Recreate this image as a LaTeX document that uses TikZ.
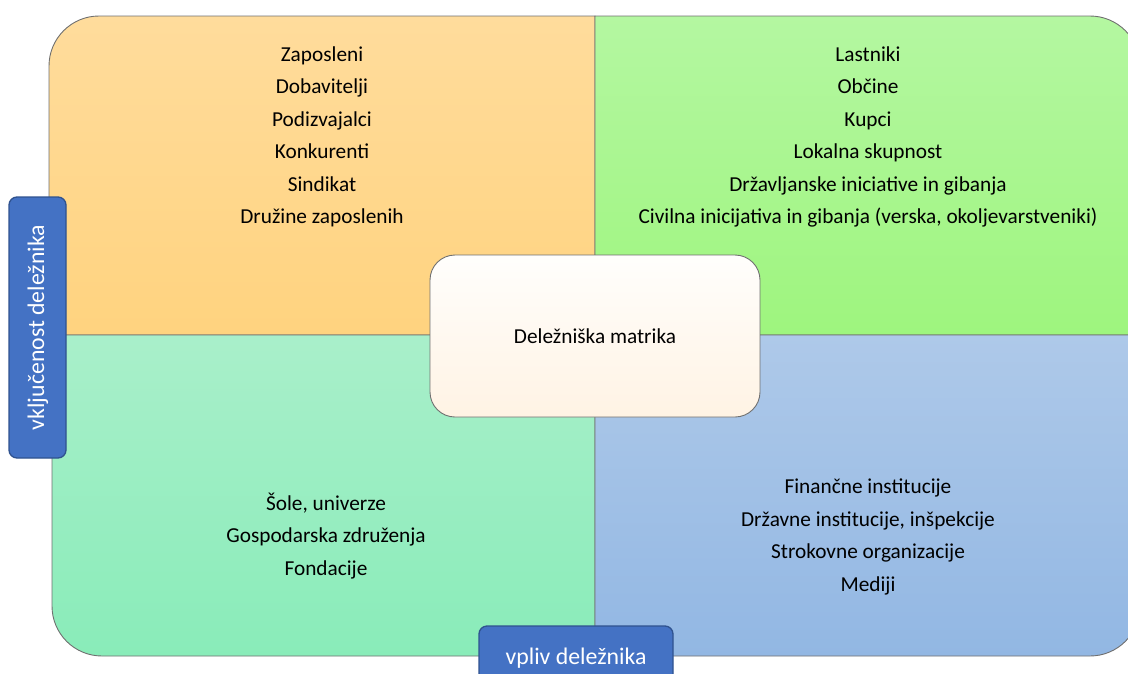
\documentclass[tikz,border=0pt]{standalone}
\usepackage{fontspec}
\setmainfont{Carlito}
\definecolor{tlA}{HTML}{FFDC9C}
\definecolor{tlB}{HTML}{FFD37F}
\definecolor{trA}{HTML}{B4F7A1}
\definecolor{trB}{HTML}{9EF57E}
\definecolor{blA}{HTML}{A9EFCA}
\definecolor{blB}{HTML}{89ECB9}
\definecolor{brA}{HTML}{AEC9E9}
\definecolor{brB}{HTML}{92B7E3}
\definecolor{ctA}{HTML}{FFFEFC}
\definecolor{ctB}{HTML}{FFF3E4}
\definecolor{edge}{HTML}{707070}
\definecolor{lblfill}{HTML}{4472C4}
\definecolor{lbledge}{HTML}{2F528F}
\begin{document}
\begin{tikzpicture}[x=1pt,y=-1pt,
  quad/.style={draw=edge,line width=0.9pt},
  listtext/.style={align=center,font=\fontsize{21.3}{32.5}\selectfont,text=black,inner sep=0pt},
  lbl/.style={draw=lbledge,line width=1.3pt,fill=lblfill,rounded corners=8pt},
  lbltext/.style={font=\fontsize{23.8}{28}\selectfont,text=white,inner sep=0pt}]
\useasboundingbox (0,0) rectangle (1128,673);
\clip (0,0) rectangle (1128,673);
% quadrants
\path[quad,top color=tlA,bottom color=tlB] (49,335) -- (49,66) arc[start angle=180,end angle=90,radius=50pt] -- (595,16) -- (595,335) -- cycle;
\path[quad,top color=trA,bottom color=trB] (595,16) -- (1090,16) arc[start angle=90,end angle=0,radius=50pt] -- (1140,335) -- (595,335) -- cycle;
\path[quad,top color=blA,bottom color=blB] (52,335) -- (595,335) -- (595,656) -- (102,656) arc[start angle=-90,end angle=-180,radius=50pt] -- cycle;
\path[quad,top color=brA,bottom color=brB] (595,335) -- (1140,335) -- (1140,606) arc[start angle=0,end angle=-90,radius=50pt] -- (595,656) -- cycle;
% texts
\node[listtext] (tl) at (322,137) {Zaposleni\\Dobavitelji\\Podizvajalci\\Konkurenti\\Sindikat\\Družine zaposlenih};
\node[listtext] (tr) at (868,137) {Lastniki\\Občine\\Kupci\\Lokalna skupnost\\Državljanske iniciative in gibanja\\Civilna inicijativa in gibanja (verska, okoljevarstveniki)};
\node[listtext] (bl) at (326,536) {Šole, univerze\\Gospodarska združenja\\Fondacije};
\node[listtext] (br) at (868,537) {Finančne institucije\\Državne institucije, inšpekcije\\Strokovne organizacije\\Mediji};
% centre
\path[draw=edge,line width=0.9pt,top color=ctA,bottom color=ctB,rounded corners=25pt] (430,255) rectangle (760,417);
\node[listtext] (ct) at (595,336) {Deležniška matrika};
% axis labels
\path[lbl] (9,197) rectangle (66,458);
\node[lbltext,rotate=90] (yl) at (38,327.5) {vključenost deležnika};
\path[lbl] (479,626) rectangle (673,700);
\node[lbltext,anchor=base] (xl) at (576,664) {vpliv deležnika};
\end{tikzpicture}
\end{document}
